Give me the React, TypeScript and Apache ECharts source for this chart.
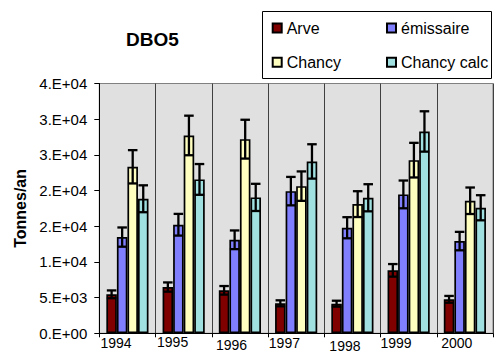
import React, { useEffect, useRef } from "react";
import * as echarts from "echarts";

const years = ["1994", "1995", "1996", "1997", "1998", "1999", "2000"];
const arve = [5460, 6480, 6020, 4200, 4150, 8820, 4760];
const emissaire = [13480, 15210, 13100, 19920, 14790, 19460, 12920];
const chancy = [23330, 27720, 27200, 20620, 18100, 24260, 18570];
const chancyCalc = [18850, 21560, 19040, 24080, 18990, 28280, 17590];
const errorPercent = 10;
const yTickLabels = ["0.E+00", "5.E+03", "1.E+04", "2.E+04", "2.E+04", "3.E+04", "3.E+04", "4.E+04"];

const seriesNames = ["Arve", "émissaire", "Chancy", "Chancy calc"];
const seriesColors = ["#800000", "#8080FF", "#FFFFC0", "#A0E0E0"];
const seriesData = [arve, emissaire, chancy, chancyCalc];

// per-label offsets (Excel's staggered category labels)
const labelPad = [
  [1.6, 0, 0, 1.2],
  [0, 0, 0, 1.5],
  [3.3, 0, 0, 4.1],
  [1, 0, 0, 0.8],
  [4.3, 0, 0, 5.1],
  [1, 0, 0, 0],
  [1.6, 0, 0, 4.4],
];

const FONT = "'Liberation Sans', Arial, sans-serif";
const GAP_RATIO = 0.75;

export default function App() {
  const ref = useRef<HTMLDivElement>(null);
  useEffect(() => {
    if (!ref.current) return;
    const chart = echarts.init(ref.current, null, { renderer: "svg" });
    const rich: any = {};
    labelPad.forEach((p, i) => {
      rich["p" + i] = { padding: p, fontSize: 14, fontFamily: FONT, color: "#000" };
    });

    const bars = seriesNames.map((name, k) => ({
      name,
      type: "bar",
      xAxisIndex: 0,
      yAxisIndex: 0,
      data: seriesData[k],
      barGap: "0%",
      barCategoryGap: "25%",
      itemStyle: { color: seriesColors[k], borderColor: "#000", borderWidth: 1.7 },
      emphasis: { disabled: true },
    }));

    const errs = seriesNames.map((_, k) => ({
      type: "custom",
      xAxisIndex: 0,
      yAxisIndex: 0,
      z: 5,
      silent: true,
      data: seriesData[k].map((v, i) => [i, v, (v * errorPercent) / 100]),
      encode: { x: 0, y: 1 },
      renderItem: (params: any, api: any) => {
        const ci = api.value(0);
        const v = api.value(1);
        const e = api.value(2);
        const band = api.size([1, 0])[0];
        const total = band * GAP_RATIO;
        const barW = total / 4;
        const cx = api.coord([ci, 0])[0] - total / 2 + barW * (k + 0.5);
        const yTop = api.coord([ci, v + e])[1];
        const yBot = api.coord([ci, v - e])[1];
        const half = barW / 2 - 0.5;
        const st = { stroke: "#000", lineWidth: 2.3 };
        return {
          type: "group",
          children: [
            { type: "line", shape: { x1: cx, y1: yTop, x2: cx, y2: yBot }, style: st },
            { type: "line", shape: { x1: cx - half, y1: yTop, x2: cx + half, y2: yTop }, style: st },
            { type: "line", shape: { x1: cx - half, y1: yBot, x2: cx + half, y2: yBot }, style: st },
          ],
        };
      },
    }));

    const legendCommon = {
      orient: "vertical",
      top: 20,
      padding: 0,
      itemGap: 18.3,
      itemWidth: 9,
      itemHeight: 9,
      icon: "rect",
      selectedMode: false,
      textStyle: { fontSize: 16, fontFamily: FONT, color: "#000", lineHeight: 16 },
    };

    chart.setOption({
      animation: false,
      textStyle: { fontFamily: FONT },
      title: {
        text: "DBO5",
        left: 126,
        top: 30,
        padding: 0,
        textStyle: { fontSize: 19, fontWeight: "bold", fontFamily: FONT, color: "#000" },
      },
      legend: [
        { ...legendCommon, left: 271.7, data: ["Arve", "Chancy"] },
        { ...legendCommon, left: 386, data: ["émissaire", "Chancy calc"] },
      ],
      graphic: [
        {
          type: "rect",
          shape: { x: 262.5, y: 11.5, width: 229, height: 67 },
          style: { fill: "none", stroke: "#000", lineWidth: 1 },
          silent: true,
        },
      ],
      grid: {
        left: 99.3,
        top: 83.5,
        right: 0,
        bottom: 29.7,
        show: true,
        backgroundColor: "#e0e0e0",
        borderColor: "#808080",
        borderWidth: 1,
      },
      xAxis: [
        {
          type: "category",
          data: years,
          boundaryGap: true,
          axisLine: { show: true, lineStyle: { color: "#000", width: 1 } },
          axisTick: { show: true, length: 4, lineStyle: { color: "#000" } },
          axisLabel: { show: false },
          splitLine: { show: true, lineStyle: { color: "#404040", width: 1 } },
        },
        {
          type: "category",
          data: [...years, ""],
          boundaryGap: false,
          position: "bottom",
          axisLine: { show: false },
          axisTick: { show: false },
          splitLine: { show: false },
          axisLabel: {
            show: true,
            interval: 0,
            align: "left",
            margin: 1.5,
            fontSize: 14,
            fontFamily: FONT,
            color: "#000",
            formatter: (v: string, i: number) => (v ? `{p${i}|${v}}` : ""),
            rich,
          },
        },
      ],
      yAxis: {
        type: "value",
        min: 0,
        max: 35000,
        interval: 5000,
        name: "Tonnes/an",
        nameLocation: "middle",
        nameRotate: 90,
        nameGap: 71,
        nameTextStyle: { fontSize: 16, fontWeight: "bold", fontFamily: FONT, color: "#000" },
        axisLine: { show: true, lineStyle: { color: "#000", width: 1 } },
        axisTick: { show: true, length: 5, lineStyle: { color: "#000" } },
        splitLine: { show: false },
        axisLabel: {
          margin: 12,
          fontSize: 15,
          fontFamily: FONT,
          color: "#000",
          formatter: (v: number) => yTickLabels[Math.round(v / 5000)] ?? "",
        },
      },
      series: [...bars, ...errs],
    });
    return () => chart.dispose();
  }, []);
  return (
    <div
      ref={ref}
      style={{ position: "absolute", left: 0, top: 0, width: 496, height: 363, background: "#fff" }}
    />
  );
}
